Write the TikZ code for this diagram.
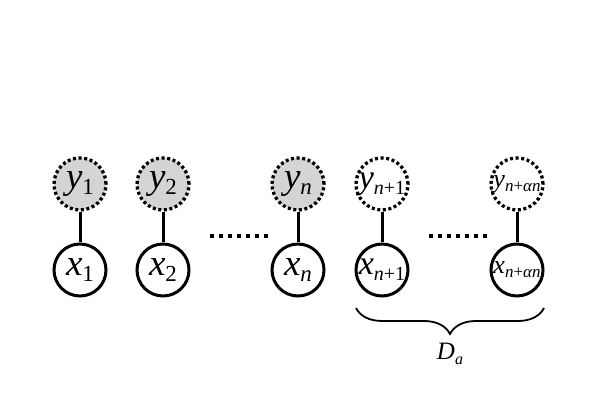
\documentclass[tikz,border=0pt]{standalone}
\usepackage{fontspec}
\setmainfont{Liberation Serif}
\usetikzlibrary{decorations.pathreplacing}
\newcommand\lbl[5]{{\fontsize{#2}{#2}\selectfont\itshape #1}\raisebox{#5}{\fontsize{#4}{#4}\selectfont #3}}
\definecolor{shade}{RGB}{212,212,212}
\tikzset{
  obs/.style={circle, draw, line width=3pt, minimum size=52pt, inner sep=0pt, fill=white},
  lat/.style={circle, draw, line width=3.3pt, dash pattern=on 3pt off 2.6pt, minimum size=52pt, inner sep=0pt},
  edge/.style={line width=3pt},
  dotline/.style={line width=4pt, dash pattern=on 4pt off 5pt},
  bracestyle/.style={decorate, decoration={brace, mirror, amplitude=26pt}, line width=1.8pt}
}
\begin{document}
\begin{tikzpicture}[x=1pt,y=1pt]
\path[use as bounding box] (0,0) rectangle (598,418);
% latent nodes
\node[lat, fill=shade] (y1) at (80,234) {\lbl{y}{37}{1}{23}{-6pt}};
\node[lat, fill=shade] (y2) at (163,234) {\lbl{y}{37}{2}{23}{-6pt}};
\node[lat, fill=shade] (yn) at (298,234) {\lbl{y}{37}{\itshape n}{23}{-6pt}};
\node[lat] (yn1) at (382,234) {\lbl{y}{34}{{\itshape n}+1}{20}{-6pt}};
\node[lat] (yna) at (517,234) {\lbl{y}{26}{{\itshape n}+{\itshape αn}}{17}{-4pt}};
% observed nodes
\node[obs] (x1) at (80,148) {\lbl{x}{37}{1}{23}{-6pt}};
\node[obs] (x2) at (163,148) {\lbl{x}{37}{2}{23}{-6pt}};
\node[obs] (xn) at (298,148) {\lbl{x}{37}{\itshape n}{23}{-6pt}};
\node[obs] (xn1) at (382,148) {\lbl{x}{34}{{\itshape n}+1}{20}{-6pt}};
\node[obs] (xna) at (517,148) {\lbl{x}{26}{{\itshape n}+{\itshape αn}}{17}{-4pt}};
% edges
\draw[edge] (y1) -- (x1);
\draw[edge] (y2) -- (x2);
\draw[edge] (yn) -- (xn);
\draw[edge] (yn1) -- (xn1);
\draw[edge] (yna) -- (xna);
% ellipsis dots
\coordinate (d1s) at (210,182);
\coordinate (d1e) at (268,182);
\coordinate (d2s) at (429,182);
\coordinate (d2e) at (487,182);
\draw[dotline] (d1s) -- (d1e);
\draw[dotline] (d2s) -- (d2e);
% brace
\coordinate (b1) at (356,110);
\coordinate (b2) at (544,110);
\draw[bracestyle] (b1) -- (b2);
\node (da) at (450,64) {\lbl{D}{25}{\itshape a}{16}{-5pt}};
\end{tikzpicture}
\end{document}
